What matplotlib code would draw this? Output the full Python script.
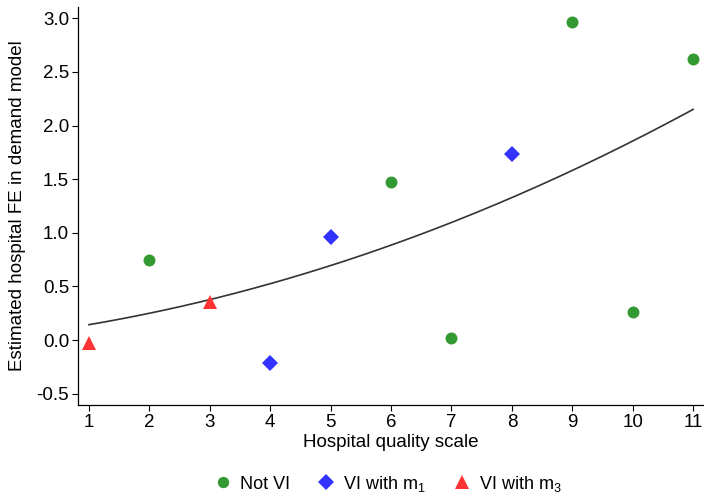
import numpy as np
import matplotlib
matplotlib.use('Agg')
import matplotlib.pyplot as plt

plt.rcParams['font.family'] = ['Liberation Sans', 'DejaVu Sans']
plt.rcParams['mathtext.fontset'] = 'custom'
plt.rcParams['mathtext.rm'] = 'Liberation Sans'

# data
x_notvi = [2, 6, 7, 9, 10, 11]
y_notvi = [0.75, 1.47, 0.015, 2.97, 0.26, 2.62]
x_m1 = [4, 5, 8]
y_m1 = [-0.21, 0.96, 1.73]
x_m3 = [1, 3]
y_m3 = [-0.03, 0.35]
xticks = list(range(1, 12))
yticks = [-0.5, 0.0, 0.5, 1.0, 1.5, 2.0, 2.5, 3.0]

# quadratic fit through all points (like stata qfit)
xall = np.array(x_notvi + x_m1 + x_m3, dtype=float)
yall = np.array(y_notvi + y_m1 + y_m3, dtype=float)
coef = np.polyfit(xall, yall, 2)
xs = np.linspace(1, 11, 200)
ys = np.polyval(coef, xs)

fs = 13.5

fig = plt.figure(figsize=(7.04, 4.96), dpi=100)
ax = fig.add_axes([0.111, 0.1835, 0.889, 0.8025])

ax.plot(xs, ys, color='#333333', lw=1.2, zorder=2)
h1, = ax.plot(x_notvi, y_notvi, 'o', color='#339933', ms=8.6, mew=0, zorder=3)
h2, = ax.plot(x_m1, y_m1, 'D', color='#3333ff', ms=8.5, mew=0, zorder=3)
h3, = ax.plot(x_m3, y_m3, '^', color='#ff3333', ms=10.5, mew=0, zorder=3)

ax.set_xlim(0.82, 11.18)
ax.set_ylim(-0.606, 3.106)
ax.set_xticks(xticks)
ax.set_yticks(yticks)
ax.set_yticklabels(['%.1f' % v for v in yticks])
ax.tick_params(labelsize=fs, length=4, width=0.8, pad=2.5, colors='black')
for s in ['top', 'right']:
    ax.spines[s].set_visible(False)
for s in ['left', 'bottom']:
    ax.spines[s].set_linewidth(0.9)

ax.set_xlabel('Hospital quality scale', fontsize=fs, labelpad=2)
ax.set_ylabel('Estimated hospital FE in demand model', fontsize=fs, labelpad=7.5)

fig.legend([h1, h2, h3],
           ['Not VI', r'VI with m$_1$', r'VI with m$_3$'],
           loc='lower center', bbox_to_anchor=(0.548, -0.028), ncol=3,
           frameon=False, fontsize=13, handletextpad=0.25, columnspacing=1.3,
           handlelength=1.4, markerscale=0.95)

fig.savefig('out.png', dpi=100)
